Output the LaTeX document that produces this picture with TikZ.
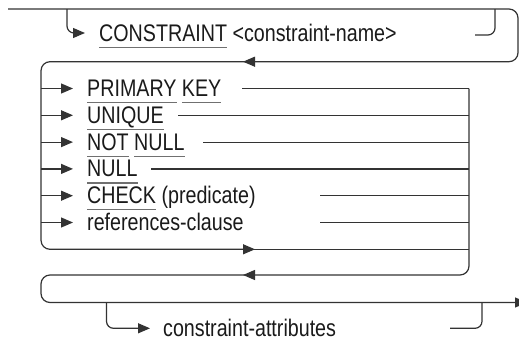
\documentclass[tikz,border=0pt]{standalone}
\usepackage{fontspec}
\setmainfont[FakeStretch=0.82]{Liberation Sans}
\usetikzlibrary{arrows.meta}
\definecolor{linec}{HTML}{333333}
\definecolor{txtc}{HTML}{1A1A1A}
\definecolor{ulc}{HTML}{707070}
\newcommand\kwu[1]{\setbox0\hbox{#1}\rlap{\textcolor{ulc}{\rule[-6.6pt]{\wd0}{1.1pt}}}\box0\relax}
\begin{document}
\begin{tikzpicture}[x=1pt,y=-1pt,
  rail/.style={line width=1.2pt, draw=linec, rounded corners=9pt},
  railsm/.style={line width=1.2pt, draw=linec, rounded corners=7pt},
  arr/.style={-{Triangle[length=12pt,width=10pt]}},
  railtext/.style={anchor=base west, inner sep=0pt, text=txtc, font=\fontsize{24pt}{28pt}\selectfont}]
\useasboundingbox (0,0) rectangle (519,343);

% junction coordinates
\coordinate (s) at (8,9);
\coordinate (tr) at (518,9);
\coordinate (lr) at (518,61.7);
\coordinate (la) at (243,61.7);
\coordinate (lb) at (252,61.7);
\coordinate (tl) at (41,61.7);
\coordinate (bl) at (41,249.3);
\coordinate (ba) at (255,249.3);
\coordinate (bb) at (248,249.3);
\coordinate (br) at (469,249.3);
\coordinate (rt) at (469,88.5);
\coordinate (rb) at (469,275);
\coordinate (ra) at (243,275);
\coordinate (rc) at (252,275);
\coordinate (fl) at (41,275);
\coordinate (fb) at (41,302.5);
\coordinate (fe) at (527,302.5);

% main line with optional CONSTRAINT name
\draw[rail, arr] (s) -- (tr) -- (lr) -- (la);
\coordinate (c0) at (67,9);
\coordinate (c1) at (67,33);
\coordinate (c2) at (85,33);
\draw[railsm, arr] (c0) -- (c1) -- (c2);
\node[railtext] (cname) at (99,41.5) {\kwu{CONSTRAINT} <constraint-name>};
\coordinate (c3) at (475,35);
\coordinate (c4) at (495,35);
\coordinate (c5) at (495,9);
\draw[railsm] (c3) -- (c4) -- (c5);

% loop box
\draw[rail, arr] (lb) -- (tl) -- (bl) -- (ba);
\draw[rail] (bb) -- (br);
\draw[rail, arr] (rt) -- (rb) -- (ra);
\draw[rail, arr] (rc) -- (fl) -- (fb) -- (fe);

% rows
\foreach \nm/\y/\xe/\txt in {
  pk/88.5/242/{\kwu{PRIMARY} \kwu{KEY}},
  uq/115.3/178/{\kwu{UNIQUE}},
  nn/142.1/203/{\kwu{NOT} \kwu{NULL}},
  nu/168.9/151/{\kwu{NULL}},
  ck/195.7/320/{\kwu{CHECK} (predicate)},
  rf/222.5/320/{references-clause}} {
  \coordinate (\nm-a) at (41,\y);
  \coordinate (\nm-b) at (73,\y);
  \coordinate (\nm-c) at (\xe,\y);
  \coordinate (\nm-d) at (469,\y);
  \draw[rail, arr] (\nm-a) -- (\nm-b);
  \node[railtext] (\nm) at (87,\y+8) {\txt};
}
\draw[rail] (pk-c) -- (pk-d);
\draw[rail] (uq-c) -- (uq-d);
\draw[rail] (nn-c) -- (nn-d);
\draw[rail] (nu-c) -- (nu-d);
\draw[rail] (ck-c) -- (ck-d);
\draw[rail] (rf-c) -- (rf-d);

% constraint-attributes branch
\coordinate (a0) at (106.5,302.5);
\coordinate (a1) at (106.5,328.3);
\coordinate (a2) at (150,328.3);
\draw[railsm, arr] (a0) -- (a1) -- (a2);
\node[railtext] (cattr) at (163,336.5) {constraint-attributes};
\coordinate (a3) at (450,328.3);
\coordinate (a4) at (482,328.3);
\coordinate (a5) at (482,302.5);
\draw[railsm] (a3) -- (a4) -- (a5);
\end{tikzpicture}
\end{document}
